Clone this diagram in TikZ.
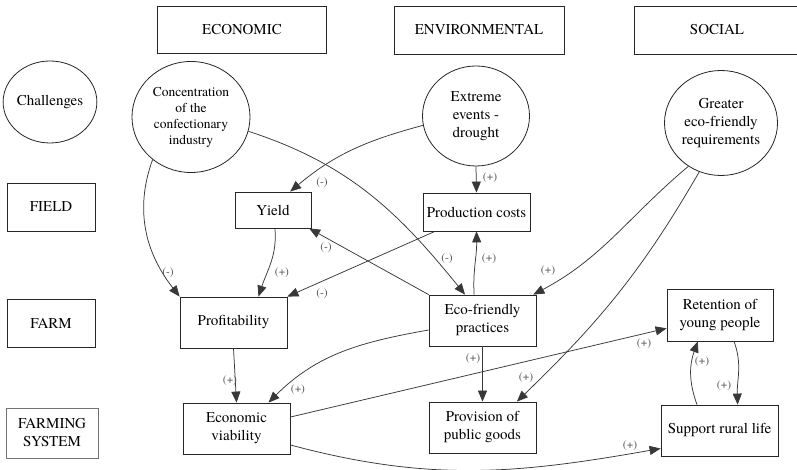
\documentclass[tikz,border=0pt]{standalone}
\usepackage{fontspec}
\setmainfont{texgyretermes}[Extension=.otf, UprightFont=*-regular, BoldFont=*-bold, ItalicFont=*-italic, BoldItalicFont=*-bolditalic]
\usetikzlibrary{shapes.geometric,arrows.meta}
\begin{document}
\begin{tikzpicture}[x=1pt,y=1pt,
  box/.style={draw=black!85, line width=0.8pt, rectangle, inner sep=0pt, align=center, font=\fontsize{15}{18}\selectfont},
  oval/.style={draw=black!85, line width=0.8pt, ellipse, inner sep=0pt, align=center, font=\fontsize{15}{18}\selectfont},
  link/.style={draw=black!78, line width=0.75pt, -{Triangle[length=11pt,width=9pt]}},
  lbl/.style={font=\fontsize{11.5}{13}\selectfont, text=black!70, inner sep=0pt}
]
\useasboundingbox (0,0) rectangle (797,470);
\fill[white] (0,0) rectangle (797,470);

% headers
\node[box, minimum width=169, minimum height=47] (economic) at (242,440) {ECONOMIC};
\node[box, minimum width=170, minimum height=48] (environmental) at (479,440) {ENVIRONMENTAL};
\node[box, minimum width=166, minimum height=48] (social) at (717,440) {SOCIAL};

% row labels
\node[oval, minimum width=88, minimum height=82] (challenges) at (50,368) {Challenges};
\node[box, minimum width=88, minimum height=48] (field) at (51,263) {FIELD};
\node[box, minimum width=88, minimum height=48] (farm) at (51,147) {FARM};
\node[box, draw=black!55, minimum width=92, minimum height=50] (farmsys) at (52,37) {FARMING\\SYSTEM};

% challenges
\node[oval, minimum width=118, minimum height=111, font=\fontsize{13.5}{16}\selectfont] (conc) at (191,353) {Concentration\\of the\\confectionary\\industry};
\node[oval, minimum width=107, minimum height=100] (extreme) at (476,354) {Extreme\\events -\\drought};
\node[oval, minimum width=113, minimum height=105] (greater) at (721,347) {Greater\\eco-friendly\\requirements};

% field
\node[box, minimum width=76, minimum height=36] (yield) at (273,260) {Yield};
\node[box, minimum width=107, minimum height=38] (prodcost) at (476.5,258) {Production costs};

% farm
\node[box, minimum width=107, minimum height=51] (prof) at (233.5,147.5) {Profitability};
\node[box, minimum width=107, minimum height=51] (eco) at (482.5,149.5) {Eco-friendly\\practices};
\node[box, minimum width=106, minimum height=52] (retention) at (720,155) {Retention of\\young people};

% farming system
\node[box, minimum width=107, minimum height=51] (ev) at (236.5,41.5) {Economic\\viability};
\node[box, minimum width=107, minimum height=51] (prov) at (482.5,42.5) {Provision of\\public goods};
\node[box, minimum width=117, minimum height=51] (support) at (719.5,39.5) {Support rural life};

% connectors
\draw[link] (conc.228) to[out=250,in=128] (prof.north west);
\draw[link] (conc.346) to[out=-18,in=129] (eco.124);
\draw[link] (extreme.190) to[out=195,in=40] (yield.47);
\draw[link] (extreme.south) -- (prodcost.north);
\draw[link] (yield.-84) to[out=-85,in=72] (prof.46);
\draw[link] (prodcost.205) -- (prof.north east);
\draw[link] (eco.north west) -- (yield.-27);
\draw[link] (eco.108) to[out=93,in=-89] (prodcost.south);
\draw[link] (greater.233) to[out=220,in=28] (eco.27);
\draw[link] (greater.246) to[out=240,in=44] (prov.37);
\draw[link] (eco.south) -- (prov.north);
\draw[link] (eco.190) to[out=190,in=45] (ev.39);
\draw[link] (prof.south) -- (ev.north);
\draw[link] (ev.12) -- (retention.194);
\draw[link] (ev.-17) to[out=-15,in=190] (support.197);
\draw[link] (support.131) to[out=110,in=250] (retention.230);
\draw[link] (retention.-62) to[out=-70,in=92] (support.55);

% labels
\node[lbl] (l1) at (168,197) {(-)};
\node[lbl] (l2) at (447,211) {(-)};
\node[lbl] (l3) at (322,287) {(-)};
\node[lbl] (l4) at (490,292) {(+)};
\node[lbl] (l5) at (282,197) {(+)};
\node[lbl] (l6) at (322,176) {(-)};
\node[lbl] (l7) at (326,222) {(-)};
\node[lbl] (l8) at (489,211) {(+)};
\node[lbl] (l9) at (548,199) {(+)};
\node[lbl] (l10) at (526,92) {(+)};
\node[lbl] (l11) at (473,111) {(+)};
\node[lbl] (l12) at (298,80) {(+)};
\node[lbl] (l13) at (230,89) {(+)};
\node[lbl] (l14) at (644,126) {(+)};
\node[lbl] (l15) at (630,24) {(+)};
\node[lbl] (l16) at (702,108) {(+)};
\node[lbl] (l17) at (724,84) {(+)};
\end{tikzpicture}
\end{document}
